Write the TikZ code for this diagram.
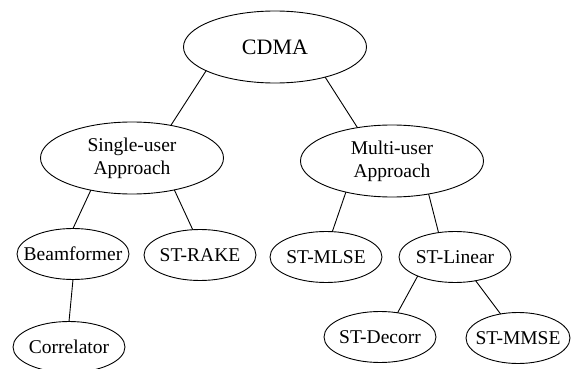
\documentclass[tikz,border=0pt]{standalone}
\usepackage{fontspec}
\setmainfont{Liberation Serif}
\usetikzlibrary{shapes.geometric}
\tikzset{
  oval/.style={draw, ellipse, inner sep=0pt, outer sep=0pt, line width=0.9pt,
    font=\fontsize{19.5}{23}\selectfont},
  bigoval/.style={oval, minimum width=183pt, minimum height=72pt},
  smalloval/.style={oval, minimum width=112pt, minimum height=51pt},
  link/.style={line width=0.9pt},
}
\newcommand{\zw}[1]{\makebox[0pt]{#1}}
\newcommand{\two}[2]{\makebox[0pt]{\begin{tabular}{@{}c@{}}#1\\#2\end{tabular}}}
\begin{document}
\begin{tikzpicture}[x=1pt,y=-1pt]
  \useasboundingbox (0,0) rectangle (571,369);
  \node[bigoval, font=\fontsize{22}{26}\selectfont] (cdma) at (275,47) {\zw{CDMA}};
  \node[bigoval] (su) at (132,158) {\two{Single-user}{Approach}};
  \node[bigoval] (mu) at (392,161) {\two{Multi-user}{Approach}};
  \node[smalloval] (bf) at (73,254) {\zw{Beamformer}};
  \node[smalloval] (rake) at (200,255) {\zw{ST-RAKE}};
  \node[smalloval] (mlse) at (326,257) {\zw{ST-MLSE}};
  \node[smalloval] (lin) at (455,257) {\zw{ST-Linear}};
  \node[smalloval] (corr) at (69,347) {\zw{Correlator}};
  \node[smalloval] (decorr) at (380,337) {\zw{ST-Decorr}};
  \node[smalloval, minimum width=104pt] (mmse) at (518,338) {\zw{ST-MMSE}};

  \draw[link] (cdma.199) -- (su.40);
  \draw[link] (cdma.329) -- (mu.136);
  \draw[link] (su.218) -- (bf.90);
  \draw[link] (su.323) -- (rake.106);
  \draw[link] (mu.214) -- (mlse.76);
  \draw[link] (mu.318) -- (lin.124);
  \draw[link] (bf.south) -- (corr.north);
  \draw[link] (lin.207) -- (decorr.54);
  \draw[link] (lin.311) -- (mmse.126);
\end{tikzpicture}
\end{document}
